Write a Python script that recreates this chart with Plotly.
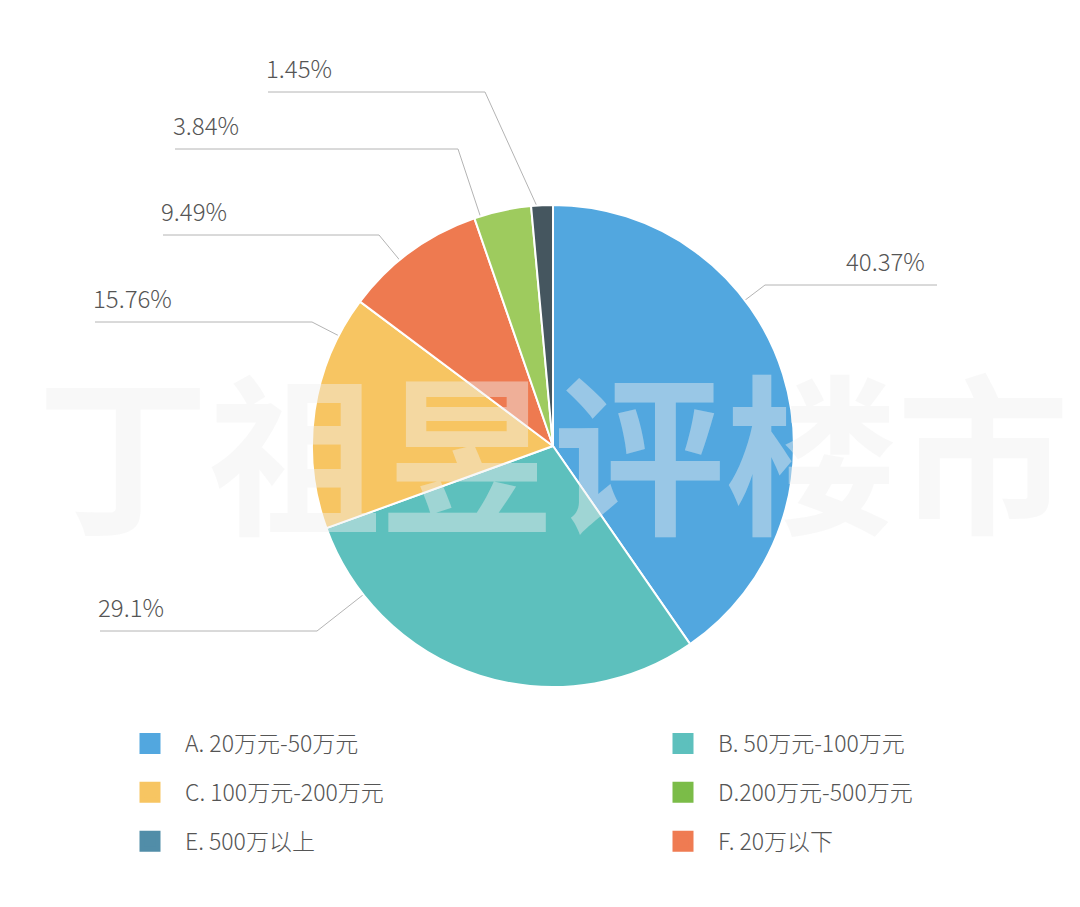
"""Pie chart: share of purchases by total price band."""

import math

import plotly.graph_objects as go

# ---- data -------------------------------------------------------------
CATEGORIES = [
    "A. 20万元-50万元",
    "B. 50万元-100万元",
    "C. 100万元-200万元",
    "D.200万元-500万元",
    "E. 500万以上",
    "F. 20万以下",
]
SHARES = [40.37, 29.1, 15.76, 3.84, 1.45, 9.49]
# order in which the slices run clockwise from 12 o'clock
PIE_ORDER = [0, 1, 2, 5, 3, 4]

SLICE_COLORS = ["#52A7DF", "#5DC0BD", "#F7C562", "#9ECB5E", "#45565F", "#EE7A50"]
LEGEND_COLORS = ["#52A7DF", "#5DC0BD", "#F7C562", "#7BBC48", "#518DA8", "#EF7B52"]

WATERMARK = "丁祖昱评楼市"

# ---- layout -----------------------------------------------------------
W, H = 1080, 907
OFF = 8  # page body margin, everything below is in page pixels
PIE_CX, PIE_CY, PIE_R = 553, 446, 241
# per category: label row y, elbow x, outer end x of the leader line
LABEL_LAYOUT = {
    0: {"row_y": 285, "elbow_x": 765, "end_x": 937},
    1: {"row_y": 631, "elbow_x": 317, "end_x": 100},
    2: {"row_y": 322, "elbow_x": 312, "end_x": 95},
    3: {"row_y": 149, "elbow_x": 458, "end_x": 175},
    4: {"row_y": 92, "elbow_x": 485, "end_x": 268},
    5: {"row_y": 235, "elbow_x": 379, "end_x": 163},
}
TEXT_COLOR = "#555555"
FONT = "Noto Sans CJK SC, Roboto, sans-serif"


def px_x(x: float) -> float:
    return (x - OFF) / W


def px_y(y: float) -> float:
    return 1 - (y - OFF) / H


def leader_points(idx: int, a0: float, a1: float) -> tuple[list[float], list[float]]:
    """Edge point of the slice nearest the elbow, then elbow, then outer end."""
    cfg = LABEL_LAYOUT[idx]
    ex, ey = cfg["elbow_x"], cfg["row_y"]
    ang = math.degrees(math.atan2(ex - PIE_CX, PIE_CY - ey)) % 360
    inset = min(1.5, (a1 - a0) / 3)
    ang = min(max(ang, a0 + inset), a1 - inset)
    rr = PIE_R - 2
    px = PIE_CX + rr * math.sin(math.radians(ang))
    py = PIE_CY - rr * math.cos(math.radians(ang))
    return [px, ex, cfg["end_x"]], [py, ey, ey]


fig = go.Figure()

pie_labels = [CATEGORIES[i] for i in PIE_ORDER]
pie_values = [SHARES[i] for i in PIE_ORDER]
pie_colors = [SLICE_COLORS[i] for i in PIE_ORDER]

fig.add_trace(
    go.Pie(
        labels=pie_labels,
        values=pie_values,
        sort=False,
        direction="clockwise",
        rotation=0,
        textinfo="none",
        marker={"colors": pie_colors, "line": {"color": "white", "width": 2}},
        domain={
            "x": [px_x(PIE_CX - PIE_R), px_x(PIE_CX + PIE_R)],
            "y": [px_y(PIE_CY + PIE_R), px_y(PIE_CY - PIE_R)],
        },
        showlegend=False,
        hovertemplate="%{label}<br>%{value}%<extra></extra>",
    )
)

# leader lines + value labels
total = sum(pie_values)
start = 0.0
annotations = []
for idx in PIE_ORDER:
    span = SHARES[idx] / total * 360
    xs, ys = leader_points(idx, start, start + span)
    start += span
    fig.add_trace(
        go.Scatter(
            x=xs,
            y=ys,
            mode="lines",
            line={"color": "#B4B4B4", "width": 1},
            hoverinfo="skip",
            showlegend=False,
        )
    )
    cfg = LABEL_LAYOUT[idx]
    right_side = cfg["end_x"] > PIE_CX
    annotations.append(
        {
            "x": cfg["end_x"] - 10 if right_side else cfg["end_x"] - 4,
            "y": cfg["row_y"] - 25,
            "xref": "x",
            "yref": "y",
            "text": f"{SHARES[idx]:g}%",
            "showarrow": False,
            "xanchor": "right" if right_side else "left",
            "yanchor": "middle",
            "font": {"size": 24, "color": TEXT_COLOR, "family": FONT, "weight": 300},
        }
    )

# legend entries, two columns: A C E | B D F
for i, (name, color) in enumerate(zip(CATEGORIES, LEGEND_COLORS)):
    fig.add_trace(
        go.Scatter(
            x=[None],
            y=[None],
            mode="markers",
            name=name,
            legendgroup=name,
            legend="legend" if i % 2 == 0 else "legend2",
            marker={"symbol": "square", "size": 16, "color": color, "line": {"color": color, "width": 5}},
            hoverinfo="skip",
        )
    )

annotations.append(
    {
        "x": px_x(553),
        "y": px_y(446),
        "xref": "paper",
        "yref": "paper",
        "text": WATERMARK,
        "showarrow": False,
        "xanchor": "center",
        "yanchor": "middle",
        "font": {"size": 172, "color": "rgba(240,240,240,0.45)", "family": "Noto Sans CJK SC", "weight": 700},
    }
)

legend_common = {
    "orientation": "v",
    "bgcolor": "rgba(0,0,0,0)",
    "borderwidth": 0,
    "font": {"size": 23, "color": TEXT_COLOR, "family": FONT, "weight": 300},
    "itemwidth": 60,
    "tracegroupgap": 16,
    "xanchor": "left",
    "yanchor": "top",
    "itemclick": False,
    "itemdoubleclick": False,
}

fig.update_layout(
    width=W,
    height=H,
    margin={"l": 0, "r": 0, "t": 0, "b": 0},
    paper_bgcolor="white",
    plot_bgcolor="white",
    xaxis={"range": [OFF, W + OFF], "visible": False, "fixedrange": True},
    yaxis={"range": [H + OFF, OFF], "visible": False, "fixedrange": True},
    legend={**legend_common, "x": px_x(115), "y": px_y(722)},
    legend2={**legend_common, "x": px_x(648), "y": px_y(722)},
    annotations=annotations,
)

fig.write_html("out.html")
